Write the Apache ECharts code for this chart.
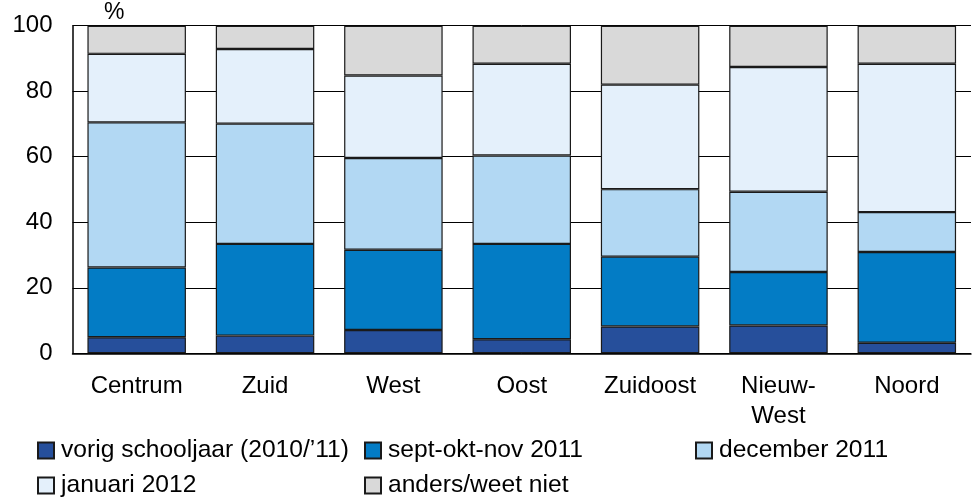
<!DOCTYPE html>
<html>
<head>
<meta charset="utf-8">
<script src="https://cdn.jsdelivr.net/npm/echarts@6/dist/echarts.min.js"></script>
<style>
html,body{margin:0;padding:0;background:#fff;}
#chart{width:972px;height:499px;}
</style>
</head>
<body>
<div id="chart"></div>
<script>
const categories = ['Centrum', 'Zuid', 'West', 'Oost', 'Zuidoost', 'Nieuw-\nWest', 'Noord'];
const vorigSchooljaar = [4.9, 5.4, 7.1, 4.3, 8.2, 8.5, 3.2];
const septOktNov = [21.3, 28.0, 24.5, 29.1, 21.3, 16.3, 27.7];
const december = [44.3, 36.7, 28.0, 27.0, 20.6, 24.5, 12.2];
const januari = [20.9, 22.8, 25.2, 28.0, 31.9, 38.1, 45.3];
const anders = [8.6, 7.1, 15.2, 11.6, 18.0, 12.6, 11.6];
const seriesNames = ['vorig schooljaar (2010/\u201911)', 'sept-okt-nov 2011', 'december 2011', 'januari 2012', 'anders/weet niet'];
const yTicks = [0, 20, 40, 60, 80, 100];

const seriesData = [vorigSchooljaar, septOktNov, december, januari, anders];
const colors = ['#264f9b', '#037cc5', '#b2d8f3', '#e4f0fb', '#d9d9d9'];
const FONT = 'Liberation Sans, Arial, sans-serif';

const chart = echarts.init(document.getElementById('chart'));

const legendPos = [
  {left: 37, top: 438},
  {left: 364, top: 438},
  {left: 695, top: 438},
  {left: 37, top: 473},
  {left: 364, top: 473}
];

const option = {
  animation: false,
  textStyle: {fontFamily: FONT},
  title: {
    text: '%', left: 99, top: -4,
    textStyle: {fontFamily: FONT, fontSize: 23, fontWeight: 'normal', color: '#000'}
  },
  legend: seriesNames.map((n, i) => ({
    data: [n],
    left: legendPos[i].left,
    top: legendPos[i].top,
    padding: 0,
    itemWidth: 16,
    itemHeight: 16,
    itemGap: 6,
    icon: 'rect',
    selectedMode: false,
    textStyle: {fontFamily: FONT, fontSize: 24.6, color: '#000', padding: [0, 0, 0, 2]}
  })),
  grid: {left: 72.5, right: 1, top: 25.7, bottom: 145.7, containLabel: false},
  xAxis: {
    type: 'category',
    data: categories,
    axisLine: {show: true, lineStyle: {color: '#000', width: 1.5}},
    axisTick: {show: false},
    axisLabel: {fontFamily: FONT, fontSize: 24, color: '#000', margin: 18, lineHeight: 30}
  },
  yAxis: {
    type: 'value',
    min: 0, max: 100, interval: 20,
    axisLine: {show: true, lineStyle: {color: '#000', width: 1.5}},
    axisTick: {show: false},
    axisLabel: {fontFamily: FONT, fontSize: 24, color: '#000', margin: 20,
      formatter: v => yTicks.includes(v) ? String(v) : ''},
    splitLine: {show: true, lineStyle: {color: '#000', width: 1}}
  },
  series: seriesData.map((d, i) => ({
    name: seriesNames[i],
    type: 'bar',
    stack: 'total',
    data: d,
    barWidth: 98.5,
    itemStyle: {color: colors[i], borderColor: '#1a1a1a', borderWidth: 1.2}
  }))
};
chart.setOption(option);
</script>
</body>
</html>
